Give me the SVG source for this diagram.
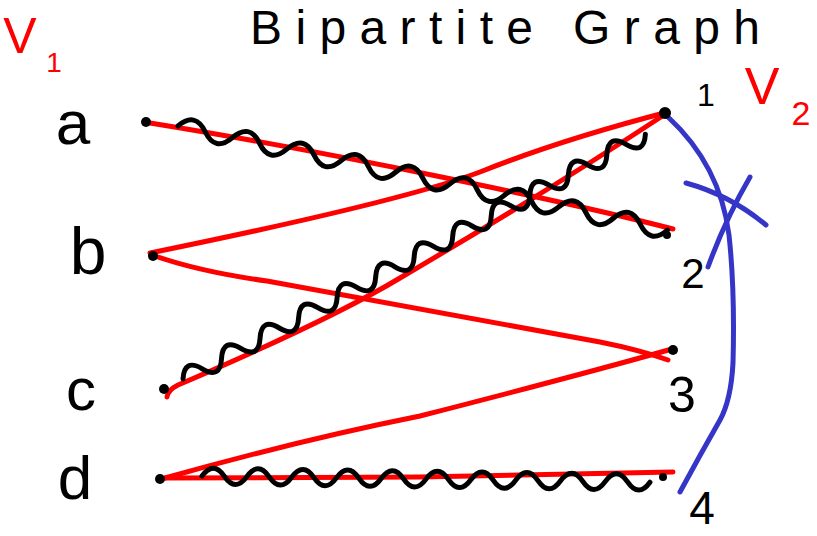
<svg xmlns="http://www.w3.org/2000/svg" width="817" height="536" viewBox="0 0 817 536">
<style>
.red{fill:none;stroke:#ff0000;stroke-width:5;stroke-linecap:round;stroke-linejoin:round}
.blk{fill:none;stroke:#000;stroke-width:5;stroke-linecap:round;stroke-linejoin:round}
.blue{fill:none;stroke:#3535c8;stroke-width:5;stroke-linecap:round;stroke-linejoin:round}
.lbl{font-family:"Liberation Sans","DejaVu Sans",sans-serif;fill:#000;text-anchor:middle}
.rlbl{font-family:"Liberation Sans","DejaVu Sans",sans-serif;fill:#ff0000;text-anchor:middle}
</style>
<rect width="817" height="536" fill="#fff"/>
<text class="lbl" x="250" y="44" font-size="48" textLength="510" lengthAdjust="spacing" style="text-anchor:start">Bipartite Graph</text>
<g id="set-labels">
<text class="rlbl" x="20" y="53" font-size="50">V</text>
<text class="rlbl" x="54" y="72" font-size="28">1</text>
<text class="rlbl" x="762" y="104" font-size="52">V</text>
<text class="rlbl" x="801" y="125" font-size="34">2</text>
</g>
<g id="connectors">
<path class="red" d="M150,123 C330,152 560,200 673,229"/>
<path class="red" d="M150,253 Q400,202 480,172 Q560,140 668,112"/>
<path class="red" d="M152,255 Q200,272 267,281 L600,342 Q640,350 668,360"/>
<path class="red" d="M167,397 Q168,390 178,385 Q330,320 400,278 Q550,190 667,113"/>
<path class="red" d="M165,478 Q300,440 420,416 Q580,375 672,349"/>
<path class="red" d="M165,478 L420,477 L673,472"/>
<path class="blk" transform="translate(178,126) rotate(12)" d="M0,0 q13.9,-18 27.8,0 t27.8,0 t27.8,0 t27.8,0 t27.8,0 t27.8,0 t27.8,0 t27.8,0 t27.8,0 t27.8,0 t27.8,0 t27.8,0 t27.8,0 t27.8,0 t27.8,0 t27.8,0 t27.8,0 t27.8,0"/>
<path class="blk" transform="translate(183,379) rotate(-27.9)" d="M0,0 q10.9,-18 21.8,0 t21.8,0 t21.8,0 t21.8,0 t21.8,0 t21.8,0 t21.8,0 t21.8,0 t21.8,0 t21.8,0 t21.8,0 t21.8,0 t21.8,0 t21.8,0 t21.8,0 t21.8,0 t21.8,0 t21.8,0 t21.8,0 t21.8,0 t21.8,0 t21.8,0 t21.8,0 t21.8,0"/>
<path class="blk" transform="translate(202,476) rotate(0.8)" d="M0,0 q11.2,-16 22.4,0 t22.4,0 t22.4,0 t22.4,0 t22.4,0 t22.4,0 t22.4,0 t22.4,0 t22.4,0 t22.4,0 t22.4,0 t22.4,0 t22.4,0 t22.4,0 t22.4,0 t22.4,0 t22.4,0 t22.4,0 t22.4,0 t22.4,0"/>
<path class="blue" d="M668,117 Q720,165 729,235 Q735,290 733,363 Q731,400 720,420 Q700,455 680,492"/>
<path class="blue" d="M686,183 Q730,195 766,225"/>
<path class="blue" d="M750,177 Q725,220 708,267"/>
</g>
<g id="node-a">
<circle cx="146" cy="122" r="5" fill="#000"/>
<text class="lbl" x="73" y="144" font-size="62">a</text>
</g>
<g id="node-b">
<circle cx="153" cy="256" r="5" fill="#000"/>
<text class="lbl" x="88" y="274" font-size="66">b</text>
</g>
<g id="node-c">
<circle cx="164" cy="389" r="5" fill="#000"/>
<text class="lbl" x="81" y="410" font-size="60">c</text>
</g>
<g id="node-d">
<circle cx="160" cy="479" r="5" fill="#000"/>
<text class="lbl" x="75" y="499" font-size="62">d</text>
</g>
<g id="node-1">
<circle cx="665" cy="113" r="6" fill="#000"/>
<text class="lbl" x="706" y="106" font-size="32">1</text>
</g>
<g id="node-2">
<circle cx="667" cy="235" r="4" fill="#000"/>
<text class="lbl" x="693" y="288" font-size="42">2</text>
</g>
<g id="node-3">
<circle cx="673" cy="350" r="5" fill="#000"/>
<text class="lbl" x="682" y="412" font-size="50">3</text>
</g>
<g id="node-4">
<circle cx="663" cy="477" r="4" fill="#000"/>
<text class="lbl" x="702" y="524" font-size="46">4</text>
</g>
</svg>
